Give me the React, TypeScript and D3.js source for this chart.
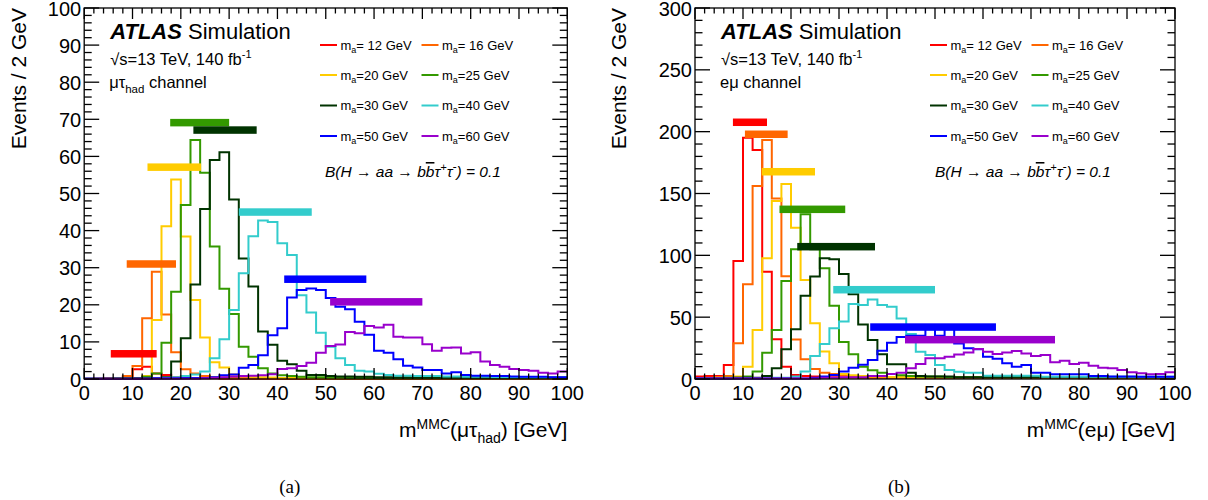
import React from "react";
import * as d3 from "d3";

// ---------- data (2 GeV bins from 0 to 100 GeV) ----------
const massLabels = ["12", "16", "20", "25", "30", "40", "50", "60"];
const legendText = ["= 12 GeV", "= 16 GeV", "=20 GeV", "=25 GeV", "=30 GeV", "=40 GeV", "=50 GeV", "=60 GeV"];
const seriesColors = ["#ff0000", "#ff6600", "#ffcc00", "#339900", "#003300", "#33cccc", "#0000ff", "#9900cc"];

// mu tau_had channel
const L12 = [0,0.1,0.2,0.3,0.6,2.6,3.3,1.5,1.1,0.5, 0.4,0.3,0.2,0.2,0.1,0.1,0.1,0.1,0.1,0.1, 0.1,0.1,0.1,0.1,0.1,0.1,0.1,0.1,0.1,0.1, 0.1,0.1,0.1,0.1,0.1,0.1,0.1,0.1,0.1,0.1, 0.1,0.1,0.1,0.1,0.1,0.1,0.1,0.1,0.1,0.1];
const L16 = [0,0.1,0.2,0.3,0.8,3.5,16.4,28.9,17.4,7.2, 2.6,1.5,0.8,0.5,0.4,0.3,0.2,0.2,0.2,0.2, 0.1,0.1,0.1,0.1,0.1,0.1,0.1,0.1,0.1,0.1, 0.1,0.1,0.1,0.1,0.1,0.1,0.1,0.1,0.1,0.1, 0.1,0.1,0.1,0.1,0.1,0.1,0.1,0.1,0.1,0.1];
const L20 = [0,0,0,0,0.1,0.3,0.8,15.9,41.2,53.8, 38.4,21.3,11.2,4.5,3.1,1.2,0.8,0.6,0.5,0.4, 0.3,0.3,0.3,0.2,0.2,0.2,0.2,0.2,0.2,0.2, 0.2,0.2,0.2,0.2,0.2,0.2,0.2,0.2,0.2,0.2, 0.2,0.2,0.2,0.2,0.2,0.2,0.2,0.2,0.2,0.2];
const L25 = [0.1,0.1,0.1,0.2,0.2,0.3,0.6,1.5,9.8,23.5, 46.9,64.4,55.6,35.7,24.3,17.5,8.7,6,2.9,1.5, 1,0.8,0.6,0.5,0.5,0.4,0.4,0.3,0.3,0.3, 0.3,0.3,0.3,0.3,0.3,0.3,0.3,0.3,0.3,0.3, 0.3,0.3,0.3,0.3,0.3,0.3,0.3,0.3,0.3,0.3];
const L30 = [0.1,0.1,0.1,0.1,0.2,0.2,0.3,0.3,0.5,4.7, 11,25.5,45.8,59,61.1,48.4,32.5,24.9,12.8,9.2, 4.9,4,2.2,1.1,1.1,0.8,0.7,0.7,0.6,0.6, 0.5,0.5,0.5,0.5,0.5,0.5,0.5,0.5,0.5,0.5, 0.4,0.4,0.4,0.4,0.4,0.4,0.4,0.4,0.4,0.4];
const L40 = [0.1,0.1,0.1,0.1,0.1,0.1,0.1,0.2,0.3,0.5, 0.8,1.2,2,5.6,10.7,18.6,28.5,38.5,42.7,42.3, 36.6,33.4,22.6,17.9,12.5,8.7,5.6,3.8,2.2,2, 1.4,1.1,0.9,0.9,0.8,0.8,0.8,0.7,0.7,0.6, 0.6,0.6,0.5,0.5,0.5,0.5,0.4,0.4,0.4,0.4];
const L50 = [0.1,0.1,0.1,0.1,0.1,0.1,0.1,0.2,0.2,0.2, 0.3,0.3,0.3,0.5,1,1.2,3,3.8,6.4,11.8, 13.7,22,24,24.4,24,21.8,19.5,18.8,15.4,11.9, 7.6,7.1,5.3,3.6,3.1,2.4,2.4,1.5,1.8,1.1, 0.9,0.9,0.8,0.8,0.7,0.6,0.6,0.6,0.5,0.5];
const L60 = [0.1,0.1,0.1,0.1,0.1,0.1,0.1,0.1,0.1,0.1, 0.1,0.1,0.2,0.3,0.5,0.7,0.8,0.9,1,1.3, 2.7,2.9,3.5,4.4,7.1,8.9,9.3,12.7,12.3,14.3, 13.9,14.6,11.4,11.2,11.2,9.4,7.6,8.4,8.5,6.9, 7.2,4.7,3.8,3.3,2.7,2.4,2.2,1.7,1.5,2];

// e mu channel
const R12 = [2,2.5,2.5,11.3,95.4,195.1,185.2,86.8,32.1,10, 3.3,2.5,2,1.5,1.5,1.2,1.2,1,1,1, 0.8,0.8,0.8,0.8,0.8,0.8,0.8,0.8,0.8,0.8, 0.8,0.8,0.8,0.8,0.8,0.8,0.8,0.8,0.8,0.8, 0.6,0.6,0.6,0.6,0.6,0.6,0.6,0.6,0.6,0.6];
const R16 = [0.5,1,1.5,2.5,28.9,76.6,156.1,193.3,146,83, 32,16,8,5,4,3,2.5,2,1.5,1.5, 1.2,1.2,1.2,1.2,1.2,1.2,1.2,1.2,1.2,1.2, 1,1,1,1,1,1,1,1,1,1, 1,1,1,1,1,1,1,1,1,1];
const R20 = [0.5,0.5,1,1,2,10,39.7,97.6,144,157.7, 122.4,80.1,45,22.2,12.7,4.1,3,2.5,2,2, 1.5,1.5,1.5,1.5,1.5,1.5,1.5,1.5,1.5,1.5, 1.5,1.5,1.5,1.5,1.5,1.5,1.5,1.5,1.5,1.5, 1.2,1.2,1.2,1.2,1.2,1.2,1.2,1.2,1.2,1.2];
const R25 = [0.5,0.5,0.5,1,1,2,6,21.3,39.7,79.3, 104.9,133.2,104.9,89.5,59.3,30,20,10,7,5, 4,3,2.5,2,2,2,1.5,1.5,1.5,1.5, 1.5,1.5,1.5,1.5,1.5,1.5,1.5,1.5,1.5,1.5, 1.5,1.5,1.5,1.5,1.5,1.5,1.5,1.5,1.5,1.5];
const R30 = [0.5,0.5,0.5,0.5,1,1,1,2.5,8.7,24, 40.2,67.4,82.8,97.6,96.8,85,68.5,44,31.5,20, 12,12,5.1,2.5,2,2,2,1.5,1.5,1.5, 1.5,1.5,1.5,1.5,1.5,1.5,1.5,1.5,1.5,1.5, 1.5,1.5,1.5,1.5,1.5,1.5,1.5,1.5,1.5,1.5];
const R40 = [0.5,0.5,0.5,0.5,0.5,0.5,0.5,0.5,1,1, 2,6,18.6,28.4,41,46.4,60.7,59.9,64.2,59.8, 58.5,49,36.4,22.1,19.4,11.3,7.3,5.9,5.1,5.1, 2.7,2.7,2.7,2.7,2.7,2.7,1.9,1.9,1.9,1.9, 1.9,1.9,1.9,1.9,1.9,1.9,1.9,1.9,1.9,1.9];
const R50 = [0.5,0.5,0.5,0.5,0.5,0.5,0.5,0.5,0.5,0.5, 0.5,0.5,1,2,3.3,6,9,11.5,15.3,22.9, 29.4,34,35,35,41,35,41,28.8,24.8,24, 18,16.4,12.7,10,11.3,5.1,5.1,3.8,3.8,3.8, 3.8,2.5,2.5,2,2,2,1.9,1.9,1.9,1.9];
const R60 = [0.5,0.5,0.5,0.5,0.5,0.5,0.5,0.5,0.5,0.5, 0.5,0.5,0.5,1,1,1.5,1.5,1.5,2.5,2.5, 4,5,8.6,12.1,16.7,16.7,18,19.9,21.5,24.2, 22.1,20.2,21.5,22.6,20.7,18.6,19.4,13.5,14.8,12.1, 13.2,10.8,9.1,8.6,7.3,5.4,4.6,3.8,4,5.4];

// horizontal window bars: low edge, high edge, height
const barLoL = [5.5, 8.8, 13.1, 17.8, 22.6, 32, 41.4, 50.9];
const barHiL = [15, 19, 24.2, 30, 35.7, 47.1, 58.4, 70];
const barYL = [6.8, 31, 57.1, 69.1, 67.1, 45, 26.9, 20.8];
const barLoR = [7.9, 10.4, 13.9, 17.6, 21.3, 28.8, 36.5, 43.75];
const barHiR = [15, 19.3, 25, 31.3, 37.5, 50, 62.7, 75];
const barYR = [207.6, 197.9, 167.6, 137.2, 107, 72.2, 42, 31.8];

const xTicks = [0, 10, 20, 30, 40, 50, 60, 70, 80, 90, 100];
const yTicksL = [0, 10, 20, 30, 40, 50, 60, 70, 80, 90, 100];
const yTicksR = [0, 50, 100, 150, 200, 250, 300];

const FONT = "'Liberation Sans', Arial, Helvetica, sans-serif";
const BIN = 2;

function stepPath(vals: number[], x: any, y: any) {
  const pts: [number, number][] = vals.map((v, i) => [i * BIN, v]);
  pts.push([vals.length * BIN, vals[vals.length - 1]]);
  const line = d3.line<[number, number]>().x((d) => x(d[0])).y((d) => y(d[1])).curve(d3.curveStepAfter);
  return line(pts) || "";
}

type PanelProps = {
  x0: number; x1: number; yTop: number; yBot: number; yMax: number;
  yMinorStep: number; yTickVals: number[];
  series: number[][]; barLo: number[]; barHi: number[]; barY: number[];
  channel: React.ReactNode; xTitle: React.ReactNode; yTitleX: number;
  legendX: number; caption: string;
};

function Panel(p: PanelProps) {
  const x = d3.scaleLinear().domain([0, 100]).range([p.x0, p.x1]);
  const y = d3.scaleLinear().domain([0, p.yMax]).range([p.yBot, p.yTop]);
  const xMinor = d3.range(0, 100.001, 2);
  const yMinor = d3.range(0, p.yMax + 0.001, p.yMinorStep);
  const tickEls: React.ReactNode[] = [];
  xMinor.forEach((v, i) => {
    const major = Math.abs(v % 10) < 1e-6;
    const len = major ? 11 : 5.5;
    tickEls.push(<line key={"xb" + i} x1={x(v)} x2={x(v)} y1={p.yBot} y2={p.yBot - len} />);
    tickEls.push(<line key={"xt" + i} x1={x(v)} x2={x(v)} y1={p.yTop} y2={p.yTop + len} />);
  });
  yMinor.forEach((v, i) => {
    const major = p.yTickVals.some((t) => Math.abs(t - v) < 1e-6);
    const len = major ? 15 : 7.5;
    tickEls.push(<line key={"yl" + i} x1={p.x0} x2={p.x0 + len} y1={y(v)} y2={y(v)} />);
    tickEls.push(<line key={"yr" + i} x1={p.x1} x2={p.x1 - len} y1={y(v)} y2={y(v)} />);
  });
  const lx = p.legendX;
  const rows = [45, 75, 105.5, 136];
  return (
    <g>
      {p.series.map((s, i) => (
        <path key={"h" + i} d={stepPath(s, x, y)} fill="none" stroke={seriesColors[i]} strokeWidth={2} strokeLinejoin="miter" />
      ))}
      {p.series.map((_, i) => (
        <rect key={"b" + i} x={x(p.barLo[i])} width={x(p.barHi[i]) - x(p.barLo[i])} y={y(p.barY[i]) - 3.75} height={7.5} fill={seriesColors[i]} />
      ))}
      <rect x={p.x0} y={p.yTop} width={p.x1 - p.x0} height={p.yBot - p.yTop} fill="none" stroke="#000" strokeWidth={1.3} />
      <g stroke="#000" strokeWidth={1.3}>{tickEls}</g>
      <g fontFamily={FONT} fontSize={20} fill="#000">
        {xTicks.map((v) => (
          <text key={"xl" + v} x={x(v)} y={400} textAnchor="middle">{v}</text>
        ))}
        {p.yTickVals.map((v) => (
          <text key={"yl" + v} x={p.x0 - 3} y={y(v) + 7.5} textAnchor="end">{v}</text>
        ))}
      </g>
      <text transform={`translate(${p.yTitleX},8) rotate(-90)`} textAnchor="end" fontFamily={FONT} fontSize={21}>Events / 2 GeV</text>
      <text x={p.x1} y={437} textAnchor="end" fontFamily={FONT} fontSize={21}>{p.xTitle}</text>
      <text x={(p.x0 + p.x1) / 2 - 36} y={493} textAnchor="middle" fontFamily="'Liberation Serif', 'Times New Roman', serif" fontSize={19}>{p.caption}</text>
      {/* ATLAS label */}
      <text x={p.x0 + 26} y={39} fontFamily={FONT} fontSize={22}>
        <tspan fontWeight="bold" fontStyle="italic">ATLAS</tspan>
        <tspan> Simulation</tspan>
      </text>
      <text x={p.x0 + 26} y={65} fontFamily={FONT} fontSize={16.5}>
        <tspan>√s=13 TeV, 140 fb</tspan>
        <tspan fontSize={11} dy={-7}>-1</tspan>
      </text>
      <text x={p.x0 + 25} y={88} fontFamily={FONT} fontSize={16.5}>{p.channel}</text>
      {/* legend */}
      {massLabels.map((m, i) => {
        const col = i % 2;
        const row = Math.floor(i / 2);
        const bx = lx + col * 101.5;
        const cy = rows[row];
        return (
          <g key={"lg" + i}>
            <line x1={bx} x2={bx + 17} y1={cy} y2={cy} stroke={seriesColors[i]} strokeWidth={2} />
            <text x={bx + 20.5} y={cy + 4.5} fontFamily={FONT} fontSize={13}>
              <tspan>m</tspan>
              <tspan fontSize={9} dy={3}>a</tspan>
              <tspan dy={-3}>{legendText[i]}</tspan>
            </text>
          </g>
        );
      })}
      <text x={lx + 5} y={177} fontFamily={FONT} fontSize={15.5} fontStyle="italic">
        <tspan>B(H → aa → b</tspan>
        <tspan style={{ textDecoration: "overline" }}>b</tspan>
        <tspan>τ</tspan>
        <tspan fontSize={11} dy={-6}>+</tspan>
        <tspan dy={6}>τ</tspan>
        <tspan fontSize={12} dy={-6}>-</tspan>
        <tspan dy={6}>) = 0.1</tspan>
      </text>
    </g>
  );
}

export default function App() {
  const left = [L12, L16, L20, L25, L30, L40, L50, L60];
  const right = [R12, R16, R20, R25, R30, R40, R50, R60];
  return (
    <svg width={1208} height={500} style={{ position: "absolute", left: 0, top: 0, background: "#fff" }}>
      <rect x={0} y={0} width={1208} height={500} fill="#fff" />
      <Panel
        x0={84.2} x1={567.3} yTop={8} yBot={379} yMax={100} yMinorStep={2} yTickVals={yTicksL}
        series={left} barLo={barLoL} barHi={barHiL} barY={barYL}
        channel={<><tspan>μτ</tspan><tspan fontSize={11.5} dy={5}>had</tspan><tspan dy={-5}> channel</tspan></>}
        xTitle={<><tspan>m</tspan><tspan fontSize={14} dy={-8}>MMC</tspan><tspan dy={8}>(μτ</tspan><tspan fontSize={14} dy={6}>had</tspan><tspan dy={-6}>) [GeV]</tspan></>}
        yTitleX={26} legendX={320} caption="(a)"
      />
      <Panel
        x0={695} x1={1175} yTop={8} yBot={379} yMax={300} yMinorStep={10} yTickVals={yTicksR}
        series={right} barLo={barLoR} barHi={barHiR} barY={barYR}
        channel={<tspan>eμ channel</tspan>}
        xTitle={<><tspan>m</tspan><tspan fontSize={14} dy={-8}>MMC</tspan><tspan dy={8}>(eμ) [GeV]</tspan></>}
        yTitleX={626} legendX={930} caption="(b)"
      />
    </svg>
  );
}
